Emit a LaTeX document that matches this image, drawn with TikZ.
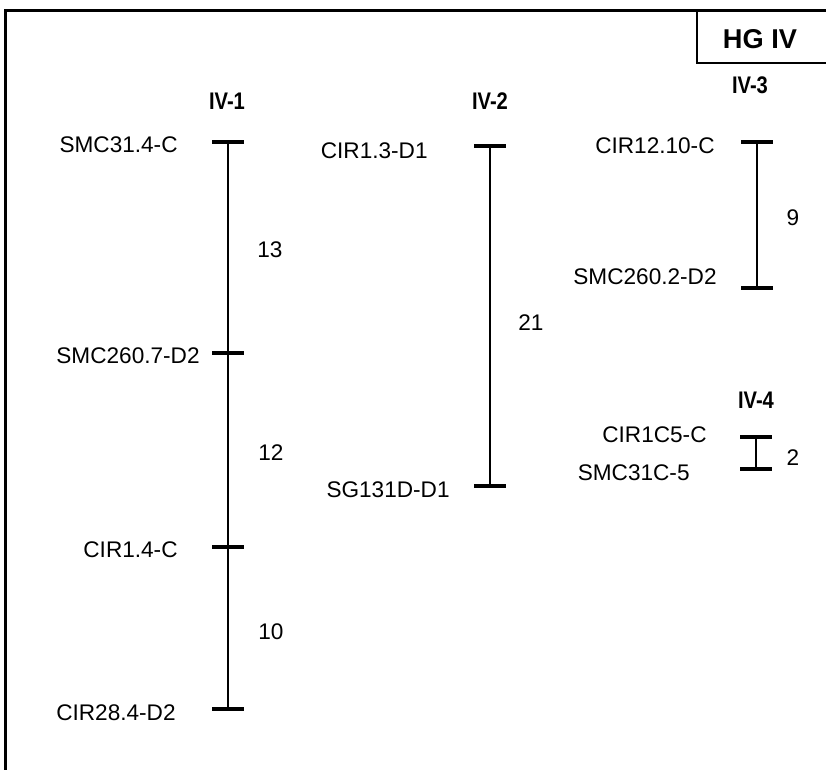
\documentclass[tikz,border=0pt]{standalone}
\usepackage{fontspec}
\setmainfont{Liberation Sans}
\newfontfamily\grpfont[FakeStretch=0.84]{Liberation Sans Bold}
\begin{document}
\begin{tikzpicture}[x=0.5pt, y=-0.5pt,
  chrom/.style={line width=1.4pt},
  tickbar/.style={line width=2.4pt},
  mlabel/.style={anchor=east, inner sep=0pt, font=\fontsize{11.3}{13}\selectfont},
  dist/.style={inner sep=0pt, font=\fontsize{11.3}{13}\selectfont},
  glabel/.style={inner sep=0pt, font=\grpfont\fontsize{12}{14}\selectfont}]

  \useasboundingbox (0,0) rectangle (826,770);

  % frame and title box
  \draw[line width=1.5pt] (5,770) -- (5,11) -- (826,11);
  \draw[line width=1.1pt] (697,11) -- (697,63) -- (826,63);
  \node[inner sep=0pt, font=\bfseries\fontsize{13.6}{15}\selectfont] (title) at (760,39) {HG IV};

  % IV-1
  \node[glabel] (g1) at (227,101) {IV-1};
  \coordinate (a1) at (228,142);
  \coordinate (a2) at (228,353);
  \coordinate (a3) at (228,547);
  \coordinate (a4) at (228,709);
  \draw[chrom] (a1) -- (a4);
  \foreach \m in {a1,a2,a3,a4}
  {
      \draw[tickbar] ([xshift=-8pt]\m) -- ([xshift=8pt]\m);
  }
  \node[mlabel] (la1) at (178,145) {SMC31.4-C};
  \node[mlabel] (la2) at (200,356) {SMC260.7-D2};
  \node[mlabel] (la3) at (178,550) {CIR1.4-C};
  \node[mlabel] (la4) at (176,713) {CIR28.4-D2};
  \node[dist] (da1) at (270,250) {13};
  \node[dist] (da2) at (271,453) {12};
  \node[dist] (da3) at (271,632) {10};

  % IV-2
  \node[glabel] (g2) at (490,101) {IV-2};
  \coordinate (b1) at (490,146);
  \coordinate (b2) at (490,486);
  \draw[chrom] (b1) -- (b2);
  \foreach \m in {b1,b2}
  {
      \draw[tickbar] ([xshift=-8pt]\m) -- ([xshift=8pt]\m);
  }
  \node[mlabel] (lb1) at (428,151) {CIR1.3-D1};
  \node[mlabel] (lb2) at (450,490) {SG131D-D1};
  \node[dist] (db1) at (531,323) {21};

  % IV-3
  \node[glabel] (g3) at (750,85) {IV-3};
  \coordinate (c1) at (757,142);
  \coordinate (c2) at (757,288);
  \draw[chrom] (c1) -- (c2);
  \foreach \m in {c1,c2}
  {
      \draw[tickbar] ([xshift=-8pt]\m) -- ([xshift=8pt]\m);
  }
  \node[mlabel] (lc1) at (715,146) {CIR12.10-C};
  \node[mlabel] (lc2) at (717,277) {SMC260.2-D2};
  \node[dist] (dc1) at (793,218) {9};

  % IV-4
  \node[glabel] (g4) at (756,400) {IV-4};
  \coordinate (e1) at (756,437);
  \coordinate (e2) at (756,469);
  \draw[chrom] (e1) -- (e2);
  \foreach \m in {e1,e2}
  {
      \draw[tickbar] ([xshift=-8pt]\m) -- ([xshift=8pt]\m);
  }
  \node[mlabel] (le1) at (707,435) {CIR1C5-C};
  \node[mlabel] (le2) at (690,473) {SMC31C-5};
  \node[dist] (de1) at (793,458) {2};

\end{tikzpicture}
\end{document}
